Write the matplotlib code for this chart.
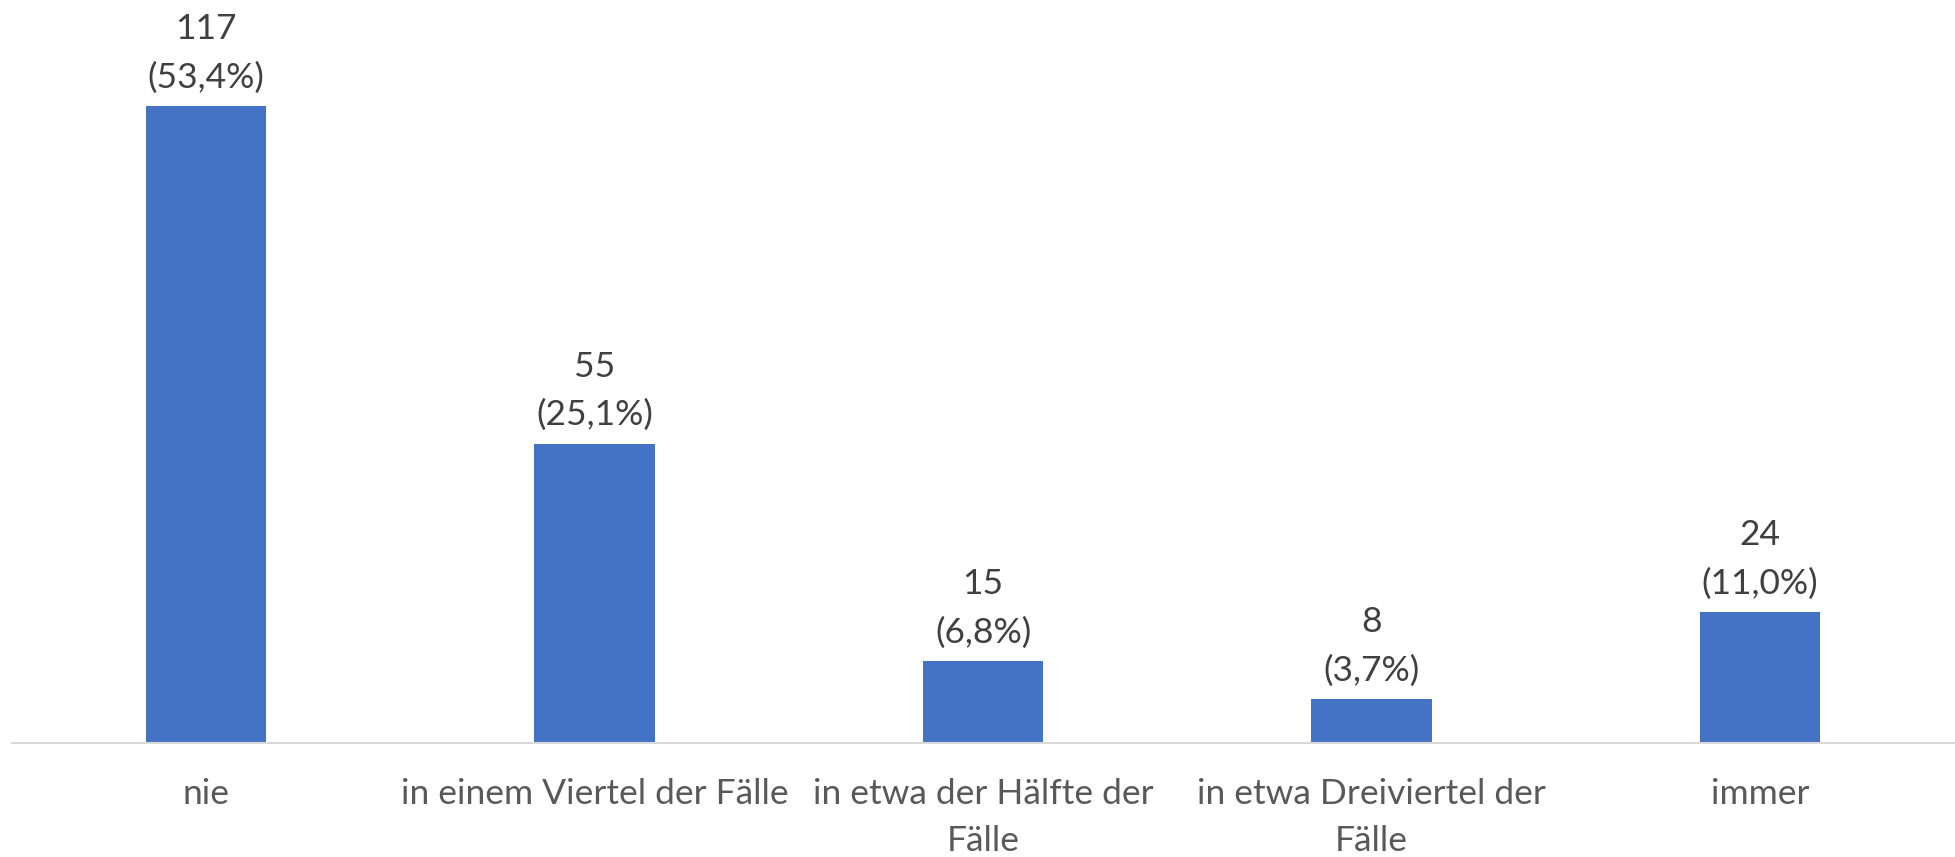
import matplotlib
matplotlib.use("Agg")
import matplotlib.pyplot as plt

categories = ["nie", "in einem Viertel der Fälle", "in etwa der Hälfte der\nFälle",
              "in etwa Dreiviertel der\nFälle", "immer"]
counts = [117, 55, 15, 8, 24]
percents = ["53,4%", "25,1%", "6,8%", "3,7%", "11,0%"]

plt.rcParams['font.family'] = ['Lato', 'DejaVu Sans']

fig = plt.figure(figsize=(19.55, 8.57), dpi=100)
ax = fig.add_axes([12/1955, (857-743)/857, 1942/1955, 743/857])

x = list(range(len(categories)))
bars = ax.bar(x, counts, width=0.31, color="#4472C4")
ax.set_xlim(-0.5, len(categories) - 0.5)
ax.set_ylim(0, 136.5)

for xi, c, p in zip(x, counts, percents):
    ax.annotate(f"{c}\n({p})", xy=(xi, c), xytext=(0, 9), textcoords="offset points",
                ha="center", va="bottom", fontsize=25.5, color="#404040", linespacing=1.62)

ax.set_xticks(x)
ax.set_xticklabels(categories, fontsize=25.5, color="#595959", linespacing=1.58)
ax.tick_params(axis="x", length=0, pad=25)
ax.set_yticks([])
for s in ["left", "right", "top"]:
    ax.spines[s].set_visible(False)
ax.spines["bottom"].set_color("#D9D9D9")
ax.spines["bottom"].set_linewidth(1.5)

fig.savefig("out.png", dpi=100)
